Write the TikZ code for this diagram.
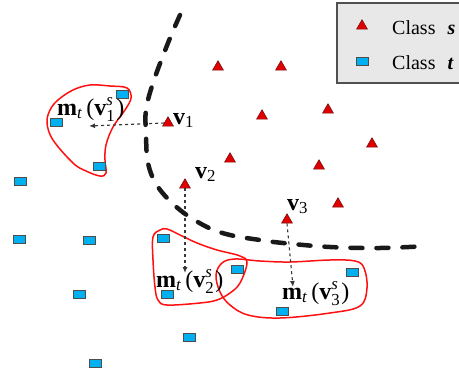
\documentclass[tikz,border=0pt]{standalone}
\usepackage{amsmath}
\usepackage{fontspec}
\setmainfont{Liberation Serif}
\usetikzlibrary{shapes.geometric,arrows.meta}
\definecolor{tri}{HTML}{E00000}
\definecolor{trib}{HTML}{7A1010}
\definecolor{sq}{HTML}{00B0F0}
\definecolor{sqb}{HTML}{4D4D4D}
\definecolor{blob}{HTML}{FF1010}
\definecolor{legfill}{HTML}{E8E8E8}
\definecolor{legbd}{HTML}{505050}
\definecolor{arr}{HTML}{383838}
\tikzset{
  sclass/.style={regular polygon, regular polygon sides=3, minimum size=12.5pt, inner sep=0pt, fill=tri, draw=trib, line width=0.6pt},
  tclass/.style={rectangle, minimum width=12pt, minimum height=8pt, inner sep=0pt, fill=sq, draw=sqb, line width=1pt},
  region/.style={draw=blob, line width=1.5pt},
  mapto/.style={draw=arr, dashed, line width=1.1pt, -{Latex[length=6pt,width=5pt]}},
  boundary/.style={draw=black!90, line width=4.5pt, line cap=round, dash pattern=on 12pt off 14pt},
  lbl/.style={inner sep=0pt, font=\fontsize{24}{28}\selectfont},
  leg/.style={inner sep=0pt, font=\fontsize{20}{24}\selectfont}
}
\newcommand{\mlab}[1]{\textbf{m}$_{\textit{t}}$\,(\textbf{v}$^{\textit{s}}_{\text{#1}}$\kern1pt)}
\begin{document}
\begin{tikzpicture}[x=1pt,y=-1pt]
\useasboundingbox (0,0) rectangle (459,378);
\begin{scope}
\clip (0,0) rectangle (459,378);
% legend
\draw[fill=legfill, draw=legbd, line width=2.2pt] (337,3) rectangle (470,83);
\node[sclass] (ls) at (362,26) {};
\node[leg, anchor=base west] (lst) at (392,34) {Class\hspace{0.6em}\textbf{\textit{s}}};
\node[tclass] (lt) at (362,61) {};
\node[leg, anchor=base west] (ltt) at (392,69) {Class\hspace{0.6em}\textbf{\textit{t}}};

% regions
\draw[region] plot[smooth cycle, tension=0.6] coordinates {(90,85) (110,86) (127,88) (131,98) (125,110) (113,127) (106,145) (105,160) (106,173) (100,176) (86,171) (73,163) (53,140) (47,123) (50,110) (58,100) (73,90)};
\draw[region] plot[smooth cycle, tension=0.6] coordinates {(160,230) (167,229) (180,235) (197,243) (217,250) (240,256) (247,263) (240,283) (230,293) (217,300) (200,303) (167,305) (158,300) (155,287) (153,260) (153,237)};
\draw[region] plot[smooth cycle, tension=0.6] coordinates {(235,259) (260,261) (290,262) (330,260) (355,261) (364,268) (367,288) (360,306) (330,313) (280,318) (248,315) (230,305) (220,292) (216,275) (222,263)};
\end{scope}

% class s samples
\node[sclass] (s1) at (218,67) {};
\node[sclass] (s2) at (281,67) {};
\node[sclass] (s3) at (328,110) {};
\node[sclass] (s4) at (262,116) {};
\node[sclass] (s5) at (372,144) {};
\node[sclass] (s6) at (319,166) {};
\node[sclass] (s7) at (230,159) {};
\node[sclass] (s8) at (338,204) {};
\node[sclass] (v1) at (168,123) {};
\node[sclass] (v2) at (185,185) {};
\node[sclass] (v3) at (287,220) {};

% mapping arrows
\coordinate (m1) at (89,126);
\coordinate (m2) at (185,273);
\coordinate (m3) at (293,287);
\draw[mapto] (v1.west) -- (m1);
\draw[mapto] (v2.south) -- (m2);
\draw[mapto] (v3.south) -- (m3);

% decision boundary
\draw[boundary] plot[smooth, tension=0.6] coordinates {(180,15) (168,43) (153,83) (146,110) (146,133) (148,163) (158,187) (180,210) (207,227) (230,235) (260,240) (283,243) (330,247) (380,248) (428,246)};

% class t samples
\node[tclass] (t1) at (122,94) {};
\node[tclass] (t2) at (56,122) {};
\node[tclass] (t3) at (99,166) {};
\node[tclass] (t4) at (20,181) {};
\node[tclass] (t5) at (19,239) {};
\node[tclass] (t6) at (89,240) {};
\node[tclass] (t7) at (163,238) {};
\node[tclass] (t8) at (79,294) {};
\node[tclass] (t9) at (167,294) {};
\node[tclass] (t10) at (189,337) {};
\node[tclass] (t11) at (95,363) {};
\node[tclass] (t12) at (237,269) {};
\node[tclass] (t13) at (352,272) {};
\node[tclass] (t14) at (282,311) {};

% labels
\node[lbl, anchor=base west] (lv1) at (173,124) {\textbf{v}$_{\text{1}}$};
\node[lbl, anchor=base west] (lv2) at (195,178) {\textbf{v}$_{\text{2}}$};
\node[lbl, anchor=base west] (lv3) at (287,210) {\textbf{v}$_{\text{3}}$};
\node[lbl, anchor=base west] (lm1) at (57,115) {\mlab{1}};
\node[lbl, anchor=base west] (lm2) at (156,287) {\mlab{2}};
\node[lbl, anchor=base west] (lm3) at (282,299) {\mlab{3}};
\end{tikzpicture}
\end{document}
